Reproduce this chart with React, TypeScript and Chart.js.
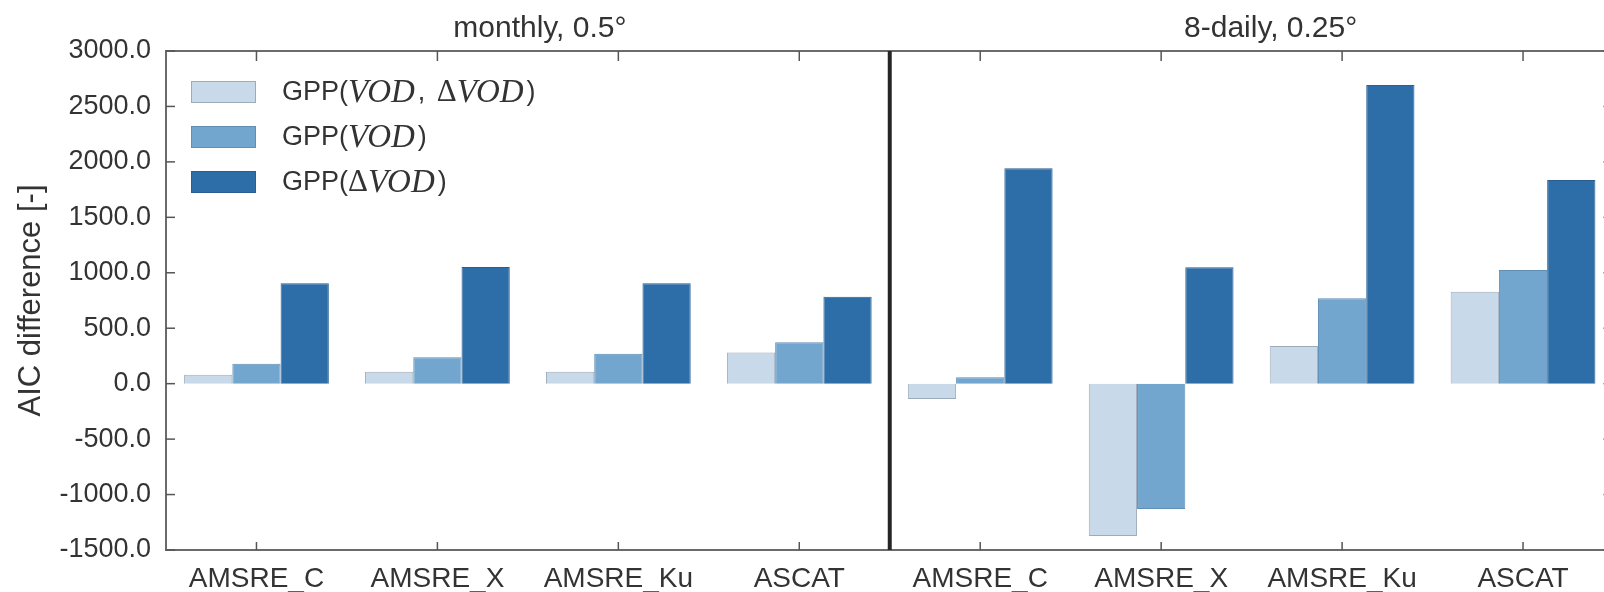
import React, { useEffect, useRef } from "react";
import { Chart, registerables } from "chart.js";

Chart.register(...registerables);

// ---------- data ----------
const categories = [
  "AMSRE_C", "AMSRE_X", "AMSRE_Ku", "ASCAT",
  "AMSRE_C", "AMSRE_X", "AMSRE_Ku", "ASCAT",
];
const panelTitles = ["monthly, 0.5°", "8-daily, 0.25°"];
const seriesNames = ["GPP(VOD, ΔVOD)", "GPP(VOD)", "GPP(ΔVOD)"];
const gppVodDvod = [80, 108, 108, 280, -138, -1374, 340, 830];
const gppVod = [180, 238, 270, 373, 58, -1130, 770, 1026];
const gppDvod = [905, 1052, 905, 784, 1943, 1050, 2694, 1837];
const yTickValues = [-1500, -1000, -500, 0, 500, 1000, 1500, 2000, 2500, 3000];
const yAxisLabel = "AIC difference [-]";

// ---------- style ----------
const fillColors = ["#c8daea", "#72a6cf", "#2e6ea8"];
const edgeColors = ["#9eacba", "#5f8fb5", "#2a5f91"];
const SANS = '"Liberation Sans", Arial, Helvetica, sans-serif';
const SERIF = '"Liberation Serif", "DejaVu Serif", serif';
const TEXT = "#333333";
const FS = 27;
const CANVAS_W = 1630;
const CANVAS_H = 592;

function drawRich(ctx: CanvasRenderingContext2D, text: string, x: number, y: number) {
  const parts = text.split(/(VOD|Δ)/).filter((p) => p.length > 0);
  let cx = x;
  for (const p of parts) {
    if (p === "VOD") ctx.font = `italic 33px ${SERIF}`;
    else if (p === "Δ") ctx.font = `31px ${SERIF}`;
    else ctx.font = `${FS}px ${SANS}`;
    ctx.fillText(p, cx, y);
    cx += ctx.measureText(p).width + (p === "VOD" ? 3 : p === ", " ? 4 : 0);
  }
}

const decorPlugin = {
  id: "decor",
  afterDatasetsDraw(chart: any) {
    const { ctx, chartArea, scales } = chart;
    const { left, right, top, bottom } = chartArea;
    const x = scales.x;
    const y = scales.y;
    const line = (x1: number, y1: number, x2: number, y2: number) => {
      ctx.beginPath();
      ctx.moveTo(x1, y1);
      ctx.lineTo(x2, y2);
      ctx.stroke();
    };
    ctx.save();
    // frame
    ctx.strokeStyle = "#6b6b6b";
    ctx.lineWidth = 2;
    ctx.strokeRect(left, top, right - left, bottom - top);
    // inward ticks
    ctx.strokeStyle = "#555";
    ctx.lineWidth = 1.5;
    categories.forEach((_, i) => {
      const px = x.getPixelForValue(i);
      line(px, top, px, top + 10);
      line(px, bottom, px, bottom - 8);
    });
    yTickValues.forEach((v) => {
      const py = y.getPixelForValue(v);
      line(left, py, left + 9, py);
      line(right, py, right - 10, py);
    });
    // panel divider
    const div = (x.getPixelForValue(3) + x.getPixelForValue(4)) / 2;
    ctx.strokeStyle = "#262626";
    ctx.lineWidth = 4;
    line(div, top, div, bottom);
    // panel titles
    ctx.fillStyle = TEXT;
    ctx.font = `30px ${SANS}`;
    ctx.textAlign = "center";
    ctx.textBaseline = "alphabetic";
    ctx.fillText(panelTitles[0], (left + div) / 2 + 12, top - 14);
    ctx.fillText(panelTitles[1], (div + right) / 2 + 19, top - 14);
    // legend
    ctx.textAlign = "left";
    ctx.textBaseline = "middle";
    seriesNames.forEach((name, i) => {
      const cy = top + 41 + i * 45;
      ctx.fillStyle = fillColors[i];
      ctx.fillRect(left + 25, cy - 11, 65, 22);
      ctx.strokeStyle = edgeColors[i];
      ctx.lineWidth = 1;
      ctx.strokeRect(left + 25.5, cy - 10.5, 64, 21);
      ctx.fillStyle = TEXT;
      drawRich(ctx, name, left + 116, cy + 1);
    });
    ctx.restore();
  },
};

export default function App() {
  const ref = useRef<HTMLCanvasElement | null>(null);
  useEffect(() => {
    if (!ref.current) return;
    const series = [gppVodDvod, gppVod, gppDvod];
    const chart = new Chart(ref.current, {
      type: "bar",
      data: {
        labels: categories,
        datasets: series.map((d, i) => ({
          label: seriesNames[i],
          data: d,
          backgroundColor: fillColors[i],
          borderColor: edgeColors[i],
          borderWidth: 1,
          categoryPercentage: 0.8,
          barPercentage: 1.0,
        })),
      },
      options: {
        animation: false,
        responsive: false,
        maintainAspectRatio: false,
        layout: { padding: { left: 0, right: CANVAS_W - 1613.5, top: 51, bottom: 0 } },
        plugins: {
          legend: { display: false },
          tooltip: { enabled: false },
          title: { display: false },
        },
        scales: {
          x: {
            type: "category",
            offset: true,
            grid: { display: false, drawTicks: false },
            border: { display: false },
            ticks: {
              color: TEXT,
              font: { family: SANS, size: 28 },
              padding: 12,
              maxRotation: 0,
              autoSkip: false,
            },
            afterFit: (s: any) => {
              s.height = CANVAS_H - 550;
            },
          },
          y: {
            min: -1500,
            max: 3000,
            grid: { display: false, drawTicks: false },
            border: { display: false },
            afterBuildTicks: (s: any) => {
              s.ticks = yTickValues.map((v) => ({ value: v }));
            },
            ticks: {
              color: TEXT,
              font: { family: SANS, size: FS },
              padding: 15,
              callback: (v: any) => Number(v).toFixed(1),
            },
            title: {
              display: true,
              text: yAxisLabel,
              color: TEXT,
              font: { family: SANS, size: 31 },
              padding: { top: 13, bottom: 0 },
            },
            afterFit: (s: any) => {
              s.width = 166;
            },
          },
        },
      },
      plugins: [decorPlugin],
    } as any);
    return () => chart.destroy();
  }, []);
  return (
    <div
      style={{
        position: "absolute",
        left: 0,
        top: 0,
        width: 1604,
        height: CANVAS_H,
        overflow: "hidden",
        background: "#ffffff",
      }}
    >
      <canvas
        ref={ref}
        width={CANVAS_W}
        height={CANVAS_H}
        style={{ width: CANVAS_W, height: CANVAS_H, display: "block" }}
      />
    </div>
  );
}
